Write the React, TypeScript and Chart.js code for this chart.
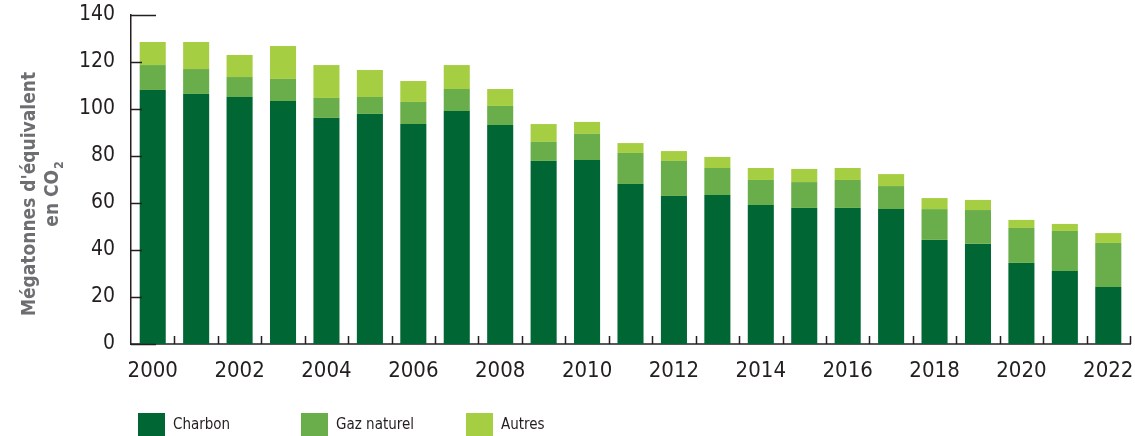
import React, { useEffect, useRef } from "react";
import { Chart, registerables } from "chart.js";

Chart.register(...registerables);

const years = ["2000","2001","2002","2003","2004","2005","2006","2007","2008","2009","2010","2011","2012","2013","2014","2015","2016","2017","2018","2019","2020","2021","2022"];
const charbon = [108.1,106.4,105.1,103.4,96.2,97.9,93.6,99.1,93.2,77.9,78.3,68.1,63.0,63.4,59.1,57.9,57.9,57.4,44.3,42.6,34.5,31.1,24.3];
const gazNaturel = [10.6,10.6,8.5,9.4,8.5,7.2,9.4,9.4,8.1,8.1,11.1,13.2,14.9,11.5,10.7,11.0,11.9,9.8,13.1,14.4,14.9,17.0,18.7];
const autres = [9.8,11.5,9.4,14.0,14.0,11.5,8.9,10.2,7.2,7.6,5.1,4.2,4.2,4.7,5.1,5.6,5.1,5.1,4.7,4.3,3.4,3.0,4.2];
const yTicks = [0, 20, 40, 60, 80, 100, 120, 140];
const seriesNames = ["Charbon", "Gaz naturel", "Autres"];
const seriesColors = ["#006633", "#6aad4b", "#a6ce43"];

const FONT = "'Liberation Sans Narrow', 'DejaVu Sans Condensed', 'Roboto', sans-serif";
const DARK = "#231f20";

const titlePlugin = {
  id: "yTitle",
  afterDraw(chart: any) {
    const ctx = chart.ctx;
    const cy = 194;
    ctx.save();
    ctx.fillStyle = "#6d6e71";
    ctx.save();
    ctx.translate(35, cy);
    ctx.rotate(-Math.PI / 2);
    ctx.font = `bold 19px ${FONT}`;
    ctx.textAlign = "center";
    ctx.textBaseline = "alphabetic";
    ctx.fillText("Mégatonnes d'équivalent", 0, 0);
    ctx.restore();
    ctx.save();
    ctx.translate(58, cy);
    ctx.rotate(-Math.PI / 2);
    ctx.textBaseline = "alphabetic";
    ctx.textAlign = "left";
    ctx.font = `bold 19px ${FONT}`;
    const main = "en CO";
    const wMain = ctx.measureText(main).width;
    ctx.font = `bold 12px ${FONT}`;
    const wSub = ctx.measureText("2").width;
    const total = wMain + 1 + wSub;
    ctx.font = `bold 19px ${FONT}`;
    ctx.fillText(main, -total / 2, 0);
    ctx.font = `bold 12px ${FONT}`;
    ctx.fillText("2", -total / 2 + wMain + 1, 5);
    ctx.restore();
    ctx.restore();
  },
};

const ticksPlugin = {
  id: "innerTicks",
  afterDatasetsDraw(chart: any) {
    const ctx = chart.ctx;
    const y = chart.scales.y;
    const x = chart.scales.x;
    const area = chart.chartArea;
    ctx.save();
    ctx.strokeStyle = DARK;
    ctx.lineWidth = 1.5;
    ctx.beginPath();
    yTicks.forEach((v) => {
      const py = Math.round(y.getPixelForValue(v)) + 0.5;
      const len = v === 0 || v === 140 ? 25 : 11;
      ctx.moveTo(area.left, py);
      ctx.lineTo(area.left + len, py);
    });
    const half = (x.getPixelForValue(1) - x.getPixelForValue(0)) / 2;
    for (let i = 0; i < years.length; i++) {
      const px = Math.round(x.getPixelForValue(i) + half) + 0.5;
      ctx.moveTo(px, area.bottom);
      ctx.lineTo(px, area.bottom - 8);
    }
    ctx.stroke();
    ctx.restore();
  },
};

export default function App() {
  const ref = useRef<HTMLCanvasElement | null>(null);
  useEffect(() => {
    if (!ref.current) return;
    const data = [charbon, gazNaturel, autres];
    const chart = new Chart(ref.current, {
      type: "bar",
      data: {
        labels: years,
        datasets: seriesNames.map((name, i) => ({
          label: name,
          data: data[i],
          backgroundColor: seriesColors[i],
          borderWidth: 0,
          barPercentage: 0.6,
          categoryPercentage: 1.0,
        })),
      },
      options: {
        animation: false,
        responsive: true,
        maintainAspectRatio: false,
        layout: { padding: { left: 0, right: 5, top: 15, bottom: 0 } },
        plugins: { legend: { display: false }, tooltip: { enabled: false } },
        scales: {
          x: {
            stacked: true,
            offset: true,
            grid: { display: false, drawTicks: false },
            border: { display: true, color: "#58595b", width: 2 },
            ticks: {
              autoSkip: false,
              maxRotation: 0,
              padding: 14,
              color: DARK,
              font: { family: FONT, size: 22 },
              callback: (_v: any, i: number) => (i % 2 === 0 ? years[i] : ""),
            },
            afterFit: (s: any) => {
              s.height = 92;
              s.paddingLeft = 0;
              s.paddingRight = 0;
            },
          },
          y: {
            stacked: true,
            min: 0,
            max: 140,
            grid: { display: false, drawTicks: false },
            border: { display: true, color: DARK, width: 1.5 },
            ticks: {
              stepSize: 20,
              padding: 16,
              color: DARK,
              font: { family: FONT, size: 21 },
            },
            afterFit: (s: any) => {
              s.width = 131;
              s.paddingTop = 0;
              s.paddingBottom = 0;
            },
          },
        },
      },
      plugins: [titlePlugin, ticksPlugin],
    });
    return () => chart.destroy();
  }, []);

  const legendLeft = [138, 301, 466];
  return (
    <div style={{ position: "absolute", left: 0, top: 0, width: 1135, height: 436, background: "#fff", overflow: "hidden" }}>
      <canvas ref={ref} />
      {seriesNames.map((name, i) => (
        <div key={name} style={{ position: "absolute", left: legendLeft[i], top: 413, display: "flex", alignItems: "center", height: 23 }}>
          <div style={{ width: 27, height: 23, background: seriesColors[i] }} />
          <span style={{ marginLeft: 8, fontFamily: FONT, fontSize: 15, color: DARK, lineHeight: "23px" }}>{name}</span>
        </div>
      ))}
    </div>
  );
}
